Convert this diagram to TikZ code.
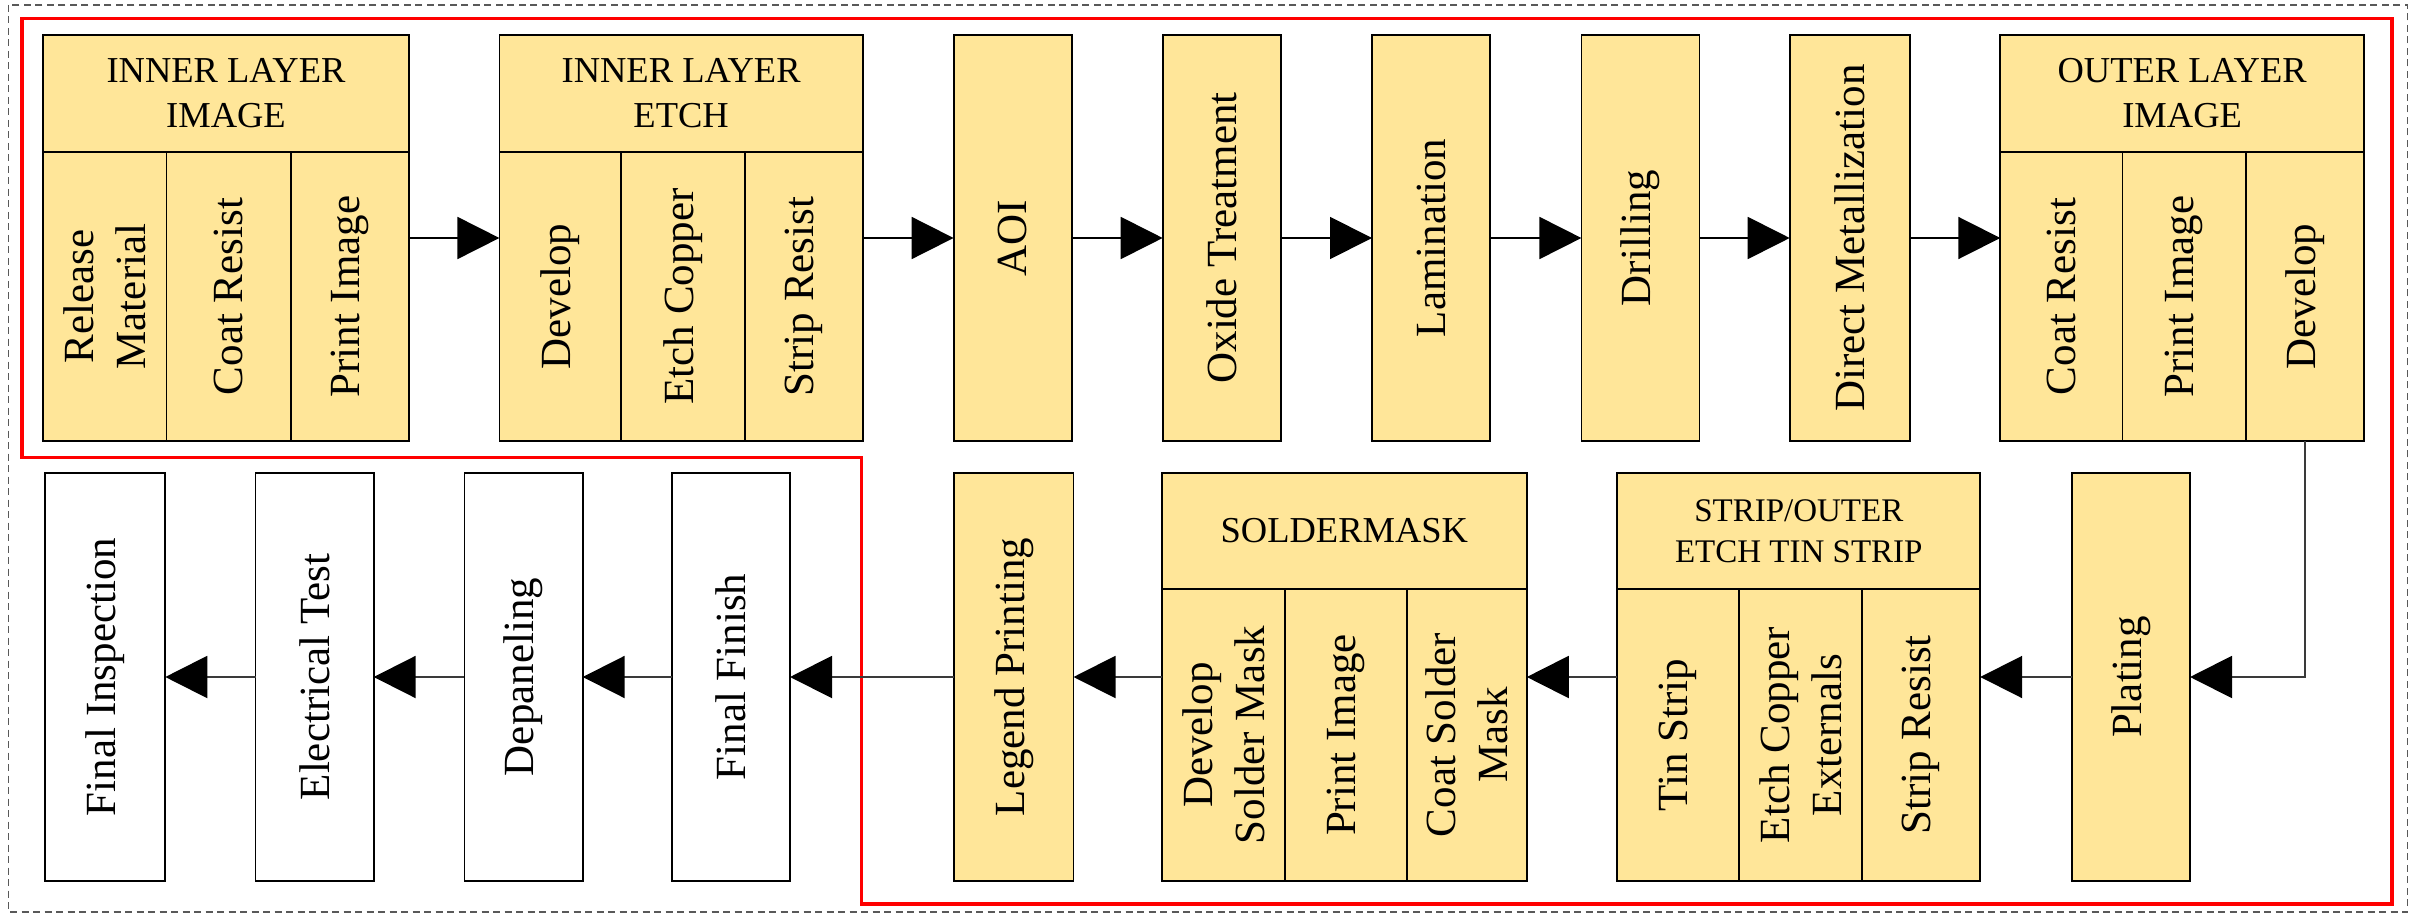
\documentclass[tikz,border=0pt]{standalone}
\usepackage{fontspec}
\setmainfont{Liberation Serif}
\usetikzlibrary{arrows.meta}
\definecolor{boxfill}{HTML}{FFE699}
\definecolor{linegray}{HTML}{3A3A3A}
\newcommand\vcell[7]{%
  \node[#2, minimum width={(#5-#3)*1pt}, minimum height={(#6-#4)*1pt}] (#1) at ({(#3+#5)/2},{(#4+#6)/2}) {};
  \node[vtext] at (#1.center) {#7};}
\newcommand\hcell[7]{%
  \node[#2, minimum width={(#5-#3)*1pt}, minimum height={(#6-#4)*1pt}] (#1) at ({(#3+#5)/2},{(#4+#6)/2}) {};
  \node[htext] at (#1.center) {#7};}
\newcommand\grpbox[5]{%
  \node[grp, minimum width={(#4-#2)*1pt}, minimum height={(#5-#3)*1pt}] (#1) at ({(#2+#4)/2},{(#3+#5)/2}) {};}
\begin{document}
\begin{tikzpicture}[x=1pt,y=-1pt,
  ybox/.style={draw=black, line width=1.8pt, fill=boxfill, inner sep=0pt, outer sep=0pt},
  wbox/.style={draw=black, line width=1.8pt, fill=white, inner sep=0pt, outer sep=0pt},
  grp/.style={draw=black, line width=1.8pt, inner sep=0pt, outer sep=0pt},
  vtext/.style={rotate=90, align=center, font=\fontsize{43}{52}\selectfont, inner sep=0pt},
  htext/.style={align=center, font=\fontsize{36.5}{45}\selectfont, inner sep=0pt},
  stext/.style={align=center, font=\fontsize{33}{41}\selectfont, inner sep=0pt},
  arr/.style={draw=black, line width=1.8pt, -{Triangle[length=42pt,width=42pt]}},
  arrb/.style={draw=linegray, line width=2pt, -{Triangle[length=42pt,width=42pt,fill=black,color=black]}},
  redline/.style={draw=red, line width=3.5pt, line join=miter},
  outer/.style={draw=gray!70!black, line width=1.5pt, dash pattern=on 7pt off 4.5pt}
]
\useasboundingbox (0,0) rectangle (2412,917);
\fill[white] (0,0) rectangle (2412,917);
\draw[outer] (8.5,5) rectangle (2407.5,912);

% ---------- top row ----------
\hcell{ilih}{ybox}{43}{35}{409}{152}{INNER LAYER\\IMAGE}
\vcell{ilia}{ybox}{43}{152}{166.5}{441}{Release\\Material}
\vcell{ilib}{ybox}{166.5}{152}{291}{441}{Coat Resist}
\vcell{ilic}{ybox}{291}{152}{409}{441}{Print Image}
\grpbox{ili}{43}{35}{409}{441}

\hcell{ileh}{ybox}{499.4}{35}{862.8}{152}{INNER LAYER\\ETCH}
\vcell{ilea}{ybox}{499.4}{152}{621}{441}{Develop}
\vcell{ileb}{ybox}{621}{152}{744.6}{441}{Etch Copper}
\vcell{ilec}{ybox}{744.6}{152}{862.8}{441}{Strip Resist}
\grpbox{ile}{499.4}{35}{862.8}{441}

\vcell{aoi}{ybox}{953.6}{35}{1072}{441}{AOI}
\vcell{oxide}{ybox}{1162.7}{35}{1281}{441}{Oxide Treatment}
\vcell{lam}{ybox}{1372}{35}{1490}{441}{Lamination}
\vcell{drill}{ybox}{1581.4}{35}{1699.5}{441}{Drilling}
\vcell{dm}{ybox}{1789.7}{35}{1910}{441}{Direct Metallization}

\hcell{olih}{ybox}{2000.3}{35}{2363.9}{152}{OUTER LAYER\\IMAGE}
\vcell{olia}{ybox}{2000.3}{152}{2122.5}{441}{Coat Resist}
\vcell{olib}{ybox}{2122.5}{152}{2245.8}{441}{Print Image}
\vcell{olic}{ybox}{2245.8}{152}{2363.9}{441}{Develop}
\grpbox{oli}{2000.3}{35}{2363.9}{441}

% ---------- bottom row ----------
\vcell{fi}{wbox}{44.8}{473}{165.3}{881}{Final Inspection}
\vcell{et}{wbox}{255.5}{473}{373.7}{881}{Electrical Test}
\vcell{dep}{wbox}{464.4}{473}{582.7}{881}{Depaneling}
\vcell{ff}{wbox}{671.6}{473}{790}{881}{Final Finish}
\vcell{lp}{ybox}{954.2}{473}{1073.5}{881}{Legend Printing}

\hcell{smh}{ybox}{1161.9}{473}{1526.8}{589}{SOLDERMASK}
\vcell{sma}{ybox}{1161.9}{589}{1285.2}{881}{Develop\\Solder Mask}
\vcell{smb}{ybox}{1285.2}{589}{1406.6}{881}{Print Image}
\vcell{smc}{ybox}{1406.6}{589}{1526.8}{881}{Coat Solder\\Mask}
\grpbox{sm}{1161.9}{473}{1526.8}{881}

\node[ybox, minimum width={(1980.2-1617.3)*1pt}, minimum height=116pt] (sth) at ({(1617.3+1980.2)/2},531) {};
\node[stext] at (sth.center) {STRIP/OUTER\\ETCH TIN STRIP};
\vcell{sta}{ybox}{1617.3}{589}{1738.6}{881}{Tin Strip}
\vcell{stb}{ybox}{1738.6}{589}{1862}{881}{Etch Copper\\Externals}
\vcell{stc}{ybox}{1862}{589}{1980.2}{881}{Strip Resist}
\grpbox{st}{1617.3}{473}{1980.2}{881}

\vcell{plat}{ybox}{2071.7}{473}{2190}{881}{Plating}

% ---------- red outline ----------
\draw[redline] (21.8,18.3) -- (2391.8,18.3) -- (2391.8,904) -- (861.5,904)
  -- (861.5,457.5) -- (21.8,457.5) -- cycle;

% ---------- connectors ----------
\draw[arr] (ili) -- (ile);
\draw[arr] (ile) -- (aoi);
\draw[arr] (aoi) -- (oxide);
\draw[arr] (oxide) -- (lam);
\draw[arr] (lam) -- (drill);
\draw[arr] (drill) -- (dm);
\draw[arr] (dm) -- (oli);
\draw[arrb] (olic.south) |- (plat.east);
\draw[arrb] (plat) -- (st);
\draw[arrb] (st) -- (sm);
\draw[arrb] (sm) -- (lp);
\draw[arrb] (lp) -- (ff);
\draw[arrb] (ff) -- (dep);
\draw[arrb] (dep) -- (et);
\draw[arrb] (et) -- (fi);
\end{tikzpicture}
\end{document}
